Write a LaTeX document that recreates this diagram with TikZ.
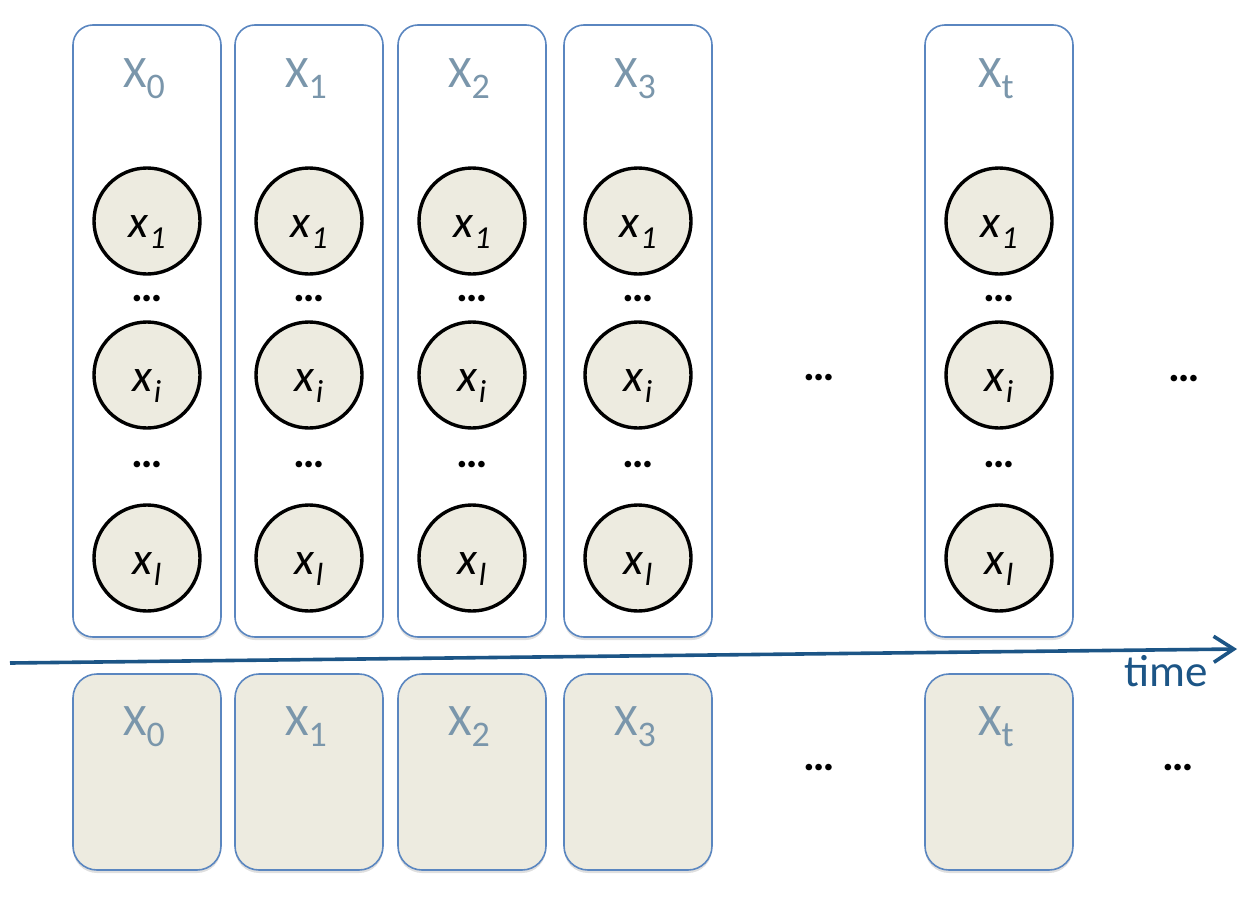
\documentclass[tikz,border=0pt]{standalone}
\usepackage{fontspec}
\setmainfont{Carlito}
\usetikzlibrary{arrows.meta,shadows}
\definecolor{boxblue}{HTML}{5A86C0}
\definecolor{cfill}{HTML}{EDEBE0}
\definecolor{lblue}{HTML}{7A96AB}
\definecolor{arrowblue}{HTML}{1C5586}
\newcommand{\Xlab}[1]{{\fontsize{45}{50}\selectfont X\raisebox{-11pt}{\fontsize{36}{40}\selectfont #1}}}
\newcommand{\xvar}[1]{{\fontsize{46}{50}\selectfont\itshape x\kern1pt\raisebox{-11pt}{\fontsize{32}{36}\selectfont #1}}}
\tikzset{
  topbox/.style={draw=boxblue, line width=1.6pt, fill=white, rounded corners=20pt,
    minimum width=148pt, minimum height=612pt, inner sep=0pt,
    drop shadow={opacity=0.25, shadow xshift=0pt, shadow yshift=-3pt}},
  botbox/.style={draw=boxblue, line width=1.6pt, fill=cfill, rounded corners=24pt,
    minimum width=148pt, minimum height=196pt, inner sep=0pt,
    drop shadow={opacity=0.25, shadow xshift=0pt, shadow yshift=-3pt}},
  var/.style={circle, draw=black, line width=3.4pt, fill=cfill, minimum size=106pt,
    inner sep=0pt, text height=32pt, text depth=0pt},
  lbl/.style={anchor=base, text=lblue, inner sep=0pt},
  dots/.style={inner sep=0pt, font=\fontsize{44}{48}\selectfont\bfseries},
}
\begin{document}
\begin{tikzpicture}[x=1pt,y=-1pt]
\useasboundingbox (0,0) rectangle (1260,902);
% top boxes with their variables, and bottom boxes
\foreach \n/\x/\s in {0/147/0,1/309/1,2/472/2,3/638/3,t/999/t}{
  \node[topbox] (T\n) at (\x,331) {};
  \node[lbl] (TL\n) at (\x-3,87) {\Xlab{\s}};
  \node[var] (VA\n) at (\x,221) {\xvar{1}};
  \node[dots] (DA\n) at (\x,299) {…};
  \node[var] (VB\n) at (\x,375) {\xvar{i}};
  \node[dots] (DB\n) at (\x,465) {…};
  \node[var] (VC\n) at (\x,558) {\xvar{l}};
  \node[botbox] (BB\n) at (\x,772) {};
  \node[lbl] (BL\n) at (\x-3,735) {\Xlab{\s}};
}
\node[dots] (m1) at (819,378) {…};
\node[dots] (m2) at (1184,379) {…};
\node[dots] (m3) at (819,768) {…};
\node[dots] (m4) at (1178,768) {…};
% time arrow
\coordinate (tstart) at (10,663);
\coordinate (tend) at (1237,649);
\draw[arrowblue, line width=3.6pt, -{Straight Barb[length=20pt,width=26pt]}] (tstart) -- (tend);
\node[anchor=base, text=arrowblue, inner sep=0pt, font=\fontsize{45}{50}\selectfont] (time) at (1166,686) {time};
\end{tikzpicture}
\end{document}
